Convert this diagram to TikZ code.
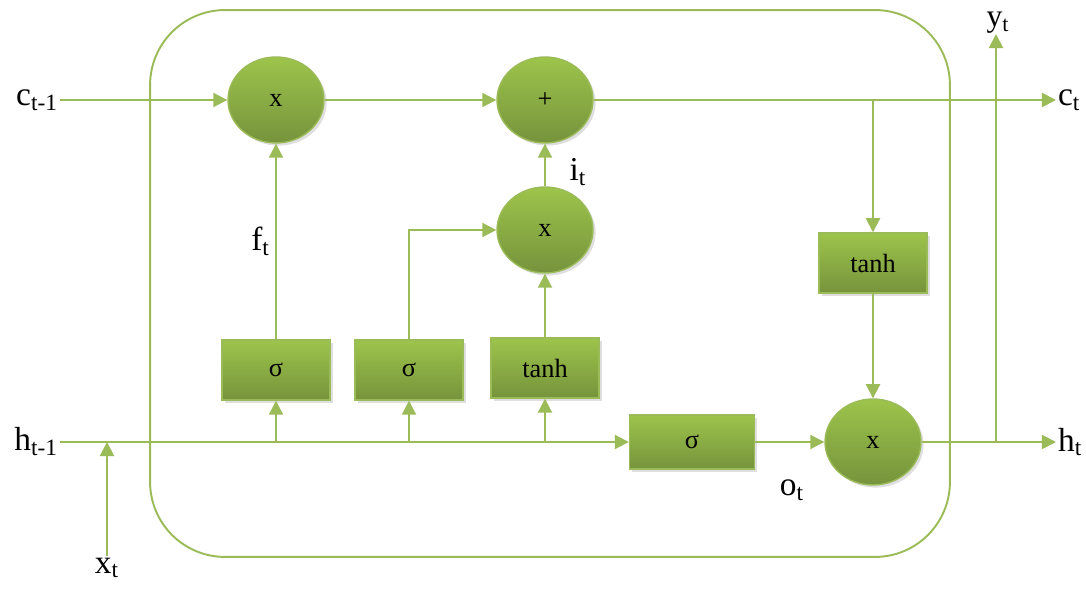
\documentclass[tikz,border=0pt]{standalone}
\usepackage{fontspec}
\setmainfont{Liberation Serif}
\usetikzlibrary{arrows.meta,shapes.geometric,shadows}
\definecolor{lstmline}{HTML}{9BBB59}
\definecolor{lstmtop}{HTML}{9DC44B}
\definecolor{lstmbot}{HTML}{76933C}

\begin{document}
\begin{tikzpicture}[
    x=0.02cm, y=-0.02cm,
    font=\fontsize{15}{18}\selectfont,
    gatebox/.style={draw=lstmline, line width=0.8pt, top color=lstmtop, bottom color=lstmbot,
        minimum width=2.16cm, minimum height=1.2cm, inner sep=0pt,
        drop shadow={opacity=0.25, shadow xshift=1.5pt, shadow yshift=-1.5pt}},
    opnode/.style={ellipse, draw=lstmline, line width=0.8pt, top color=lstmtop, bottom color=lstmbot,
        minimum width=1.92cm, minimum height=1.72cm, inner sep=0pt,
        drop shadow={opacity=0.25, shadow xshift=1.5pt, shadow yshift=-1.5pt}},
    line/.style={-{Triangle[length=8pt,width=8pt]}, line width=1.1pt, draw=lstmline},
    link/.style={line width=1.1pt, draw=lstmline},
    varlabel/.style={font=\fontsize{19}{21}\selectfont, inner sep=1pt}
]
    \useasboundingbox (0,0) rectangle (1086,590);

    % Cell outline
    \node[draw=lstmline, line width=1.1pt, rounded corners=1.5cm, minimum width=16cm,
        minimum height=10.94cm] (cell) at (550,283.5) {};

    % Node placement
    \node[opnode] (fmul) at (276,100) {x};
    \node[opnode] (add) at (545,100) {+};
    \node[opnode] (imul) at (545,230) {x};
    \node[opnode] (omul) at (873,442) {x};

    \node[gatebox] (sigf) at (276,370) {σ};
    \node[gatebox] (sigi) at (409,370) {σ};
    \node[gatebox] (tanhi) at (545,368) {tanh};
    \node[gatebox] (tanhc) at (873,263) {tanh};
    \node[gatebox, minimum width=2.5cm, minimum height=1.08cm] (sigo) at (692,442) {σ};

    % Inputs and outputs
    \node[varlabel, anchor=east] (cprev) at (60,100) {c\textsubscript{t-1}};
    \node[varlabel, anchor=east] (hprev) at (60,442) {h\textsubscript{t-1}};
    \node[varlabel, anchor=north] (xin) at (107,556) {x\textsubscript{t}};
    \node[varlabel, anchor=west] (cnext) at (1056,100) {c\textsubscript{t}};
    \node[varlabel, anchor=west] (hnext) at (1056,442) {h\textsubscript{t}};
    \node[varlabel, anchor=north, inner sep=0pt, font=\fontsize{18}{20}\selectfont] (yout) at (998,12) {y\textsubscript{t}};

    % Junctions
    \coordinate (xj) at (107,442);
    \coordinate (cj) at (873,100);
    \coordinate (yj) at (996,442);

    % Cell state path
    \draw[line] (cprev.east |- fmul) -- (fmul.west);
    \draw[line] (fmul.east) -- (add.west);
    \draw[line] (add.east) -- (add.east -| cnext.west);
    \draw[line] (cj) -- (tanhc.north);
    \draw[line] (tanhc.south) -- (omul.north);

    % Hidden state path
    \draw[line] (hprev.east |- sigo) -- (sigo.west);
    \draw[line] (xin.north) -- (xj);
    \draw[line] (sigf.south |- sigo) -- (sigf.south);
    \draw[line] (sigi.south |- sigo) -- (sigi.south);
    \draw[line] (tanhi.south |- sigo) -- (tanhi.south);

    % Gates
    \draw[line] (sigf.north) -- (fmul.south)
        node[varlabel, pos=0.5, left, xshift=-2pt] {f\textsubscript{t}};
    \draw[line] (sigi.north) |- (imul.west);
    \draw[line] (tanhi.north) -- (imul.south);
    \draw[line] (imul.north) -- (add.south);
    \node[varlabel] at (578,172) {i\textsubscript{t}};
    \draw[line] (sigo.east) -- (omul.west);
    \node[varlabel] at (792,490) {o\textsubscript{t}};

    % Output
    \draw[line] (omul.east) -- (omul.east -| hnext.west);
    \draw[line] (yj) -- (yj |- yout.south);

\end{tikzpicture}
\end{document}
